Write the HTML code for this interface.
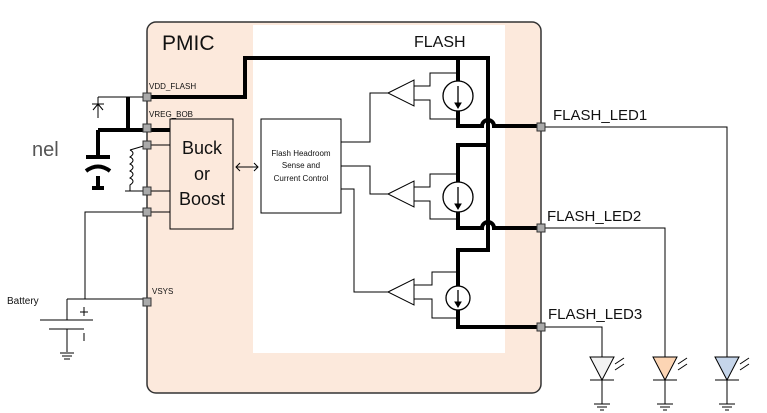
<!DOCTYPE html>
<html><head><style>body{margin:0;background:#fff}svg{display:block}text{font-family:"Liberation Sans",sans-serif}</style></head><body>
<svg width="767" height="413" viewBox="0 0 767 413" xmlns="http://www.w3.org/2000/svg">
<text x="32" y="156" font-size="20" fill="#555">nel</text>
<rect x="147" y="22" width="394" height="371" rx="9" fill="#fce9dc" stroke="#333" stroke-width="1.5"/>
<rect x="253" y="25" width="252" height="328" fill="#fff"/>
<text x="162" y="50" font-size="21" fill="#111">PMIC</text>
<text x="414" y="47" font-size="16" fill="#111">FLASH</text>
<g fill="none" stroke="#000">
<path d="M147 97H245V58H488V250H458V327H541" stroke-width="4"/>
<path d="M458 58V126H482 a6 6 0 0 1 12 0H541" stroke-width="4"/>
<path d="M488 145H458V228H482 a6 6 0 0 1 12 0H541" stroke-width="4"/>
<circle cx="458" cy="96" r="15" stroke-width="1.3" fill="#fff"/>
<circle cx="458" cy="197" r="15" stroke-width="1.3" fill="#fff"/>
<circle cx="458" cy="298" r="12" stroke-width="1.3" fill="#fff"/>
<path d="M458 86V106M458 187V207M458 290V305" stroke-width="1.3"/>
<path d="M455 103L458 108L461 103ZM455 204L458 209L461 204ZM455 302L458 307L461 302Z" fill="#000" stroke-width="1"/>
<g stroke-width="1">
<path d="M388 93L414 80V106Z"/><path d="M388 194L414 181V207Z"/><path d="M388 292L414 279V305Z"/>
<path d="M458 73H430V86H414M414 100H430V119H458"/>
<path d="M458 174H430V187H414M414 201H430V219H458"/>
<path d="M458 272H432V285H414M414 299H432V318H458"/>
<rect x="261" y="119" width="80" height="94"/>
<path d="M341 142H370V93H388M341 166H370V194H388M341 189H354V292H388"/>
<rect x="170" y="119" width="63" height="110"/>
<path d="M236 167H258M240 163L236 167L240 171M254 163L258 167L254 171"/>
<path d="M147 145H170M147 191H170M147 212H170M125 191H147M130 150L147 145"/>
<path d="M130 150 q6 3 0 7 q6 3 0 7 q6 3 0 7 q6 3 0 7 q6 3 0 7 V191"/>
<path d="M98 97H147M98 97V118M92 104H104M98 104L93 110M98 104L103 110"/>
<path d="M147 212H85V299M67 299H147M67 299V320M40 320H93M49 329H84M67 329V352M60 353H74M62 356H72M64 359H70M84 307V316M80 312H88M84 333V341"/>
<path d="M541 127H727V357M541 228H665V357M541 327H602V357"/>
</g>
<path d="M128 97V130M98 130H170M98 130V156M86 157H110M98 190V176M86 171Q98 162 110 171" stroke-width="4"/>
<path d="M92 188H104" stroke-width="4"/>
</g>
<g fill="#aaa" stroke="#333" stroke-width="1">
<rect x="143" y="93" width="8" height="8"/><rect x="143" y="124" width="8" height="8"/><rect x="143" y="141" width="8" height="8"/><rect x="143" y="187" width="8" height="8"/><rect x="143" y="208" width="8" height="8"/><rect x="143" y="298" width="8" height="8"/>
<rect x="537" y="123" width="8" height="8"/><rect x="537" y="224" width="8" height="8"/><rect x="537" y="323" width="8" height="8"/>
</g>
<g stroke="#000" stroke-width="1">
<path d="M590 357H614L602 380Z" fill="#f2f2f2"/><path d="M653 357H677L665 380Z" fill="#fcd5b4"/><path d="M715 357H739L727 380Z" fill="#c5d5ea"/>
<path d="M590 380H614M602 380V404M594 404H610M597 407H607M600 410H604"/>
<path d="M653 380H677M665 380V404M657 404H673M660 407H670M663 410H667"/>
<path d="M715 380H739M727 380V404M719 404H735M722 407H732M725 410H729"/>
<path d="M615 364L624 358M615 370L624 364M678 364L687 358M678 370L687 364M740 364L749 358M740 370L749 364"/>
</g>
<g font-size="8" fill="#111">
<text x="149" y="89">VDD_FLASH</text><text x="149" y="117">VREG_BOB</text><text x="152" y="294">VSYS</text>
<text x="301" y="156" text-anchor="middle">Flash Headroom</text><text x="301" y="168" text-anchor="middle">Sense and</text><text x="301" y="181" text-anchor="middle">Current Control</text>
</g>
<g font-size="18" fill="#111" text-anchor="middle"><text x="202" y="154">Buck</text><text x="202" y="180">or</text><text x="202" y="205">Boost</text></g>
<text x="7" y="304" font-size="10" fill="#111">Battery</text>
<g font-size="15" fill="#111"><text x="553" y="120">FLASH_LED1</text><text x="547" y="221">FLASH_LED2</text><text x="548" y="319">FLASH_LED3</text></g>
</svg>
</body></html>
